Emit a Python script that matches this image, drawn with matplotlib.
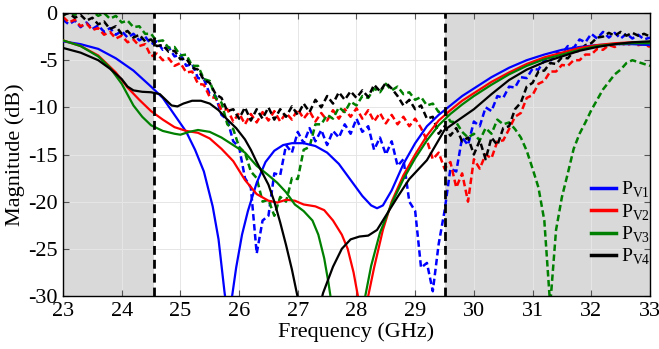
import numpy as np
import matplotlib
matplotlib.use("Agg")
import matplotlib.pyplot as plt

plt.rcParams["font.family"] = ["Liberation Serif", "DejaVu Serif"]
plt.rcParams["mathtext.fontset"] = "custom"
plt.rcParams["mathtext.rm"] = "Liberation Serif"
plt.rcParams["axes.unicode_minus"] = False

# ── data: simulated (solid) ─────────────────────────────────────────────
f_sim1 = [23.0, 23.3, 23.6, 23.9, 24.2, 24.5, 24.7, 24.9, 25.1, 25.25, 25.4, 25.55,
          25.65, 25.75, 25.82, 25.87, 25.95, 26.05, 26.15, 26.3, 26.45, 26.6, 26.75,
          26.9, 27.1, 27.3, 27.5, 27.7, 27.9, 28.1, 28.25, 28.35, 28.45, 28.6, 28.8,
          29.0, 29.2, 29.4, 29.6, 29.8, 30.0, 30.3, 30.6, 30.9, 31.2, 31.5, 31.8,
          32.1, 32.4, 32.7, 33.0]
pv1_sim = [-3.0, -3.3, -3.8, -4.8, -6.1, -7.8, -9.0, -10.8, -12.6, -14.5, -16.8, -20.5,
           -24.0, -29.5, -33.0, -30.5, -27.0, -23.5, -21.0, -18.0, -15.8, -14.6, -14.0,
           -13.8, -13.8, -14.1, -14.8, -16.0, -17.7, -19.4, -20.4, -20.7, -20.4, -18.8, -16.0,
           -13.8, -12.0, -10.8, -9.8, -8.8, -8.0, -6.8, -5.8, -5.0, -4.4, -3.9, -3.6,
           -3.4, -3.3, -3.3, -3.4]

f_sim2 = [23.0, 23.3, 23.6, 23.9, 24.1, 24.3, 24.5, 24.7, 24.9, 25.1, 25.3, 25.5,
          25.7, 25.9, 26.1, 26.3, 26.5, 26.65, 26.8, 26.95, 27.1, 27.3, 27.45, 27.6,
          27.75, 27.85, 27.95, 28.03, 28.1, 28.2, 28.3, 28.45, 28.6, 28.8, 29.0, 29.2,
          29.4, 29.6, 29.8, 30.0, 30.3, 30.6, 30.9, 31.2, 31.5, 31.8, 32.1, 32.4,
          32.7, 33.0]
pv2_sim = [-2.9, -3.5, -4.5, -6.3, -7.9, -9.2, -10.4, -11.3, -12.1, -12.5, -12.7, -13.3,
           -14.4, -15.7, -17.7, -19.2, -19.9, -20.1, -19.8, -19.9, -20.3, -20.5, -20.9, -22.0,
           -23.5, -25.0, -27.5, -30.2, -32.0, -30.0, -27.0, -23.0, -20.0, -17.2, -15.0, -13.0,
           -11.4, -10.3, -9.3, -8.5, -7.3, -6.3, -5.4, -4.7, -4.2, -3.7, -3.4, -3.2,
           -3.1, -3.1]

f_sim3 = [23.0, 23.3, 23.6, 23.8, 24.0, 24.2, 24.35, 24.5, 24.7, 24.9, 25.0, 25.15,
          25.3, 25.5, 25.7, 25.9, 26.1, 26.3, 26.5, 26.65, 26.8, 26.95, 27.1, 27.25,
          27.35, 27.45, 27.52, 27.58, 27.65, 27.85, 28.1, 28.15, 28.25, 28.4, 28.6, 28.8,
          29.0, 29.2, 29.4, 29.6, 29.8, 30.0, 30.3, 30.6, 30.9, 31.2, 31.5, 31.8,
          32.1, 32.4, 32.7, 33.0]
pv3_sim = [-2.9, -3.5, -4.6, -5.8, -7.5, -9.8, -11.0, -11.9, -12.5, -12.8, -12.9, -12.6,
           -12.4, -12.6, -13.2, -14.0, -14.8, -16.2, -17.2, -18.0, -19.0, -20.3, -21.0, -22.0,
           -23.5, -26.0, -28.5, -31.0, -34.0, -36.0, -32.0, -30.0, -26.8, -23.3, -20.2, -17.6,
           -15.4, -13.5, -11.9, -10.7, -9.7, -8.8, -7.6, -6.5, -5.6, -4.9, -4.4, -3.9,
           -3.5, -3.3, -3.2, -3.2]

f_sim4 = [23.0, 23.3, 23.6, 23.8, 24.0, 24.1, 24.2, 24.35, 24.5, 24.65, 24.75, 24.85,
          24.95, 25.05, 25.2, 25.35, 25.5, 25.65, 25.8, 25.95, 26.1, 26.2, 26.3, 26.4,
          26.5, 26.6, 26.7, 26.8, 26.9, 27.0, 27.1, 27.3, 27.43, 27.6, 27.75, 27.9,
          28.05, 28.2, 28.35, 28.5, 28.7, 28.9, 29.2, 29.5, 29.7, 30.0, 30.3, 30.6,
          30.9, 31.2, 31.5, 31.8, 32.1, 32.4, 32.7, 33.0]
pv4_sim = [-3.7, -4.2, -5.0, -5.9, -7.0, -7.8, -8.2, -8.35, -8.4, -8.6, -9.2, -9.8,
           -9.9, -9.6, -9.3, -9.3, -9.6, -10.3, -11.3, -12.2, -13.4, -14.5, -15.8, -17.0,
           -18.2, -20.0, -22.2, -24.6, -27.2, -30.2, -33.0, -33.0, -29.7, -26.9, -25.0, -24.0,
           -23.7, -23.6, -23.0, -21.5, -19.5, -17.6, -15.6, -12.4, -11.5, -10.2, -8.6, -7.1,
           -6.0, -5.2, -4.6, -4.0, -3.6, -3.3, -3.1, -3.0]

# ── data: measured (dashed), 0.1 GHz step ───────────────────────────────
f_meas = np.round(np.arange(23.0, 33.0001, 0.1), 1)
pv1_meas = [-0.7, -1.2, -0.8, -1.5, -1.0, -1.7, -1.3, -2.0, -1.6, -2.3,
            -1.9, -2.6, -2.2, -2.9, -2.5, -3.3, -3.0, -3.9, -3.6, -4.6,
            -4.4, -5.6, -5.4, -6.9, -7.0, -8.6, -8.8, -10.8, -11.3, -13.6,
            -14.2, -17.5, -18.5, -25.5, -22.0, -21.5, -17.0, -17.2, -14.0, -14.8,
            -12.6, -13.8, -12.2, -13.6, -12.4, -14.0, -12.5, -13.2, -11.8, -12.8,
            -11.2, -12.6, -12.0, -14.5, -13.2, -15.0, -13.6, -16.2, -15.5, -20.0,
            -21.0, -27.0, -26.5, -29.5, -24.5, -21.0, -16.5, -16.8, -13.2, -14.0,
            -11.5, -12.0, -10.0, -10.4, -8.8, -9.0, -7.8, -7.9, -6.8, -6.9,
            -5.9, -6.0, -5.0, -5.1, -4.2, -4.3, -3.5, -3.7, -2.8, -3.1,
            -2.2, -2.7, -2.0, -2.6, -2.1, -2.7, -2.2, -2.7, -2.3, -2.8,
            -2.6]
pv2_meas = [-0.4, -1.0, -0.7, -1.4, -1.1, -1.8, -1.6, -2.3, -2.0, -2.7,
            -2.4, -3.1, -2.8, -3.5, -3.3, -4.6, -4.3, -5.0, -4.8, -5.6,
            -5.3, -6.3, -6.2, -7.5, -7.6, -8.9, -9.0, -10.3, -10.2, -11.5,
            -10.6, -11.8, -10.7, -11.6, -10.5, -11.4, -10.4, -11.5, -10.6, -11.3,
            -10.2, -11.2, -10.4, -11.5, -10.6, -11.4, -10.3, -11.2, -10.2, -11.0,
            -10.1, -11.2, -10.3, -11.5, -10.6, -11.7, -10.8, -11.8, -11.0, -12.0,
            -11.2, -12.2, -13.5, -15.5, -14.8, -16.5, -15.8, -18.5, -17.0, -20.0,
            -15.5, -16.5, -15.0, -15.4, -13.6, -13.5, -12.3, -11.0, -10.6, -9.0,
            -8.7, -7.5, -7.2, -6.2, -6.2, -5.5, -5.6, -5.0, -5.0, -4.4,
            -4.4, -3.8, -3.9, -3.4, -3.6, -3.2, -3.4, -3.2, -3.4, -3.3,
            -3.6]
pv3_meas = [-0.3, 0.2, -0.2, 0.3, -0.1, 0.2, -0.3, 0.0, -0.6, -0.3,
            -1.0, -0.8, -1.5, -1.4, -2.2, -2.2, -3.0, -2.9, -3.7, -3.6,
            -4.5, -4.4, -5.6, -5.6, -7.0, -7.2, -9.0, -9.5, -11.8, -12.3,
            -14.2, -14.8, -16.8, -17.5, -20.0, -19.8, -21.5, -19.5, -20.0, -17.5,
            -17.6, -14.5, -14.2, -11.8, -11.8, -10.8, -11.2, -10.0, -10.5, -9.4,
            -9.8, -8.8, -9.0, -8.0, -8.4, -7.5, -8.2, -7.8, -8.6, -8.4,
            -9.2, -8.9, -9.8, -9.6, -10.5, -10.4, -11.5, -11.6, -12.6, -13.2,
            -12.8, -13.5, -12.2, -12.8, -11.3, -11.8, -11.6, -12.3, -13.2, -14.6,
            -16.5, -18.5, -22.0, -31.0, -23.0, -19.5, -17.0, -14.4, -12.8, -11.6,
            -10.3, -9.2, -8.1, -7.3, -6.5, -6.0, -5.3, -5.0, -5.2, -5.4,
            -5.6]
pv4_meas = [-0.2, 0.0, -0.5, -0.2, -0.8, -0.5, -1.2, -0.9, -1.7, -1.4,
            -2.2, -1.9, -2.6, -2.3, -3.0, -2.8, -3.5, -3.4, -4.1, -4.0,
            -4.9, -4.8, -5.8, -6.0, -7.1, -7.4, -8.6, -9.0, -10.4, -10.2,
            -11.2, -10.0, -11.4, -10.2, -11.2, -10.0, -11.3, -10.2, -11.0, -9.9,
            -10.8, -9.6, -10.5, -9.2, -10.0, -8.8, -9.6, -8.4, -9.2, -8.3,
            -9.0, -8.2, -8.9, -7.6, -8.3, -7.4, -8.0, -8.8, -9.8, -9.2,
            -10.2, -9.8, -11.2, -11.0, -12.8, -12.0, -13.0, -12.2, -13.6, -13.2,
            -15.0, -13.5, -15.5, -13.2, -14.0, -12.2, -12.0, -10.2, -9.5, -7.8,
            -7.4, -6.2, -6.1, -5.3, -5.4, -4.7, -4.8, -4.1, -4.0, -3.4,
            -3.2, -2.6, -2.5, -2.1, -2.4, -2.0, -2.4, -2.1, -2.4, -2.2,
            -2.5]

colors = ["#0000ff", "#ff0000", "#008000", "#000000"]
labels = [r"P$_{\mathrm{V1}}$", r"P$_{\mathrm{V2}}$", r"P$_{\mathrm{V3}}$", r"P$_{\mathrm{V4}}$"]
band_lo, band_hi = 24.55, 29.5

fig = plt.figure(figsize=(6.59, 3.49), dpi=100)
ax = fig.add_axes([0.0956, 0.152, 0.8907, 0.8106])

ax.axvspan(23, band_lo, color="#d9d9d9", lw=0, zorder=0)
ax.axvspan(band_hi, 33, color="#d9d9d9", lw=0, zorder=0)
ax.grid(True, color="#e6e6e6", lw=0.7, zorder=0.5)
ax.set_axisbelow(True)

meas = [pv1_meas, pv2_meas, pv3_meas, pv4_meas]
for y, c in zip(meas, colors):
    ax.plot(f_meas, y, color=c, lw=1.8, dashes=(2.6, 1.4), zorder=2)

sims = [(f_sim1, pv1_sim), (f_sim2, pv2_sim), (f_sim3, pv3_sim), (f_sim4, pv4_sim)]
for (x, y), c, lab in zip(sims, colors, labels):
    ax.plot(x, y, color=c, lw=1.6, label=lab, zorder=3)

for xv in (band_lo, band_hi):
    ax.axvline(xv, color="black", lw=2.0, dashes=(3.2, 1.8), zorder=4)

ax.set_xlim(23, 33)
ax.set_ylim(-30, 0)
ax.set_xticks(range(23, 34))
ax.set_yticks(range(-30, 1, 5))
ax.tick_params(direction="in", top=True, right=True, length=4, width=0.8,
               labelsize=16, color="#555555", pad=4)
for s in ax.spines.values():
    s.set_linewidth(1.0)
ax.set_xlabel("Frequency (GHz)", fontsize=16, labelpad=1)
ax.set_ylabel("Magnitude (dB)", fontsize=16, labelpad=2)

leg = ax.legend(loc="upper left", bbox_to_anchor=(591 / 659, 1 - 180 / 349),
                bbox_transform=fig.transFigure, frameon=False, fontsize=14,
                handlelength=1.3, handletextpad=0.25, labelspacing=0.1,
                borderpad=0, borderaxespad=0)
for h in leg.get_lines():
    h.set_linewidth(2.5)

fig.savefig("out.png", dpi=100)
